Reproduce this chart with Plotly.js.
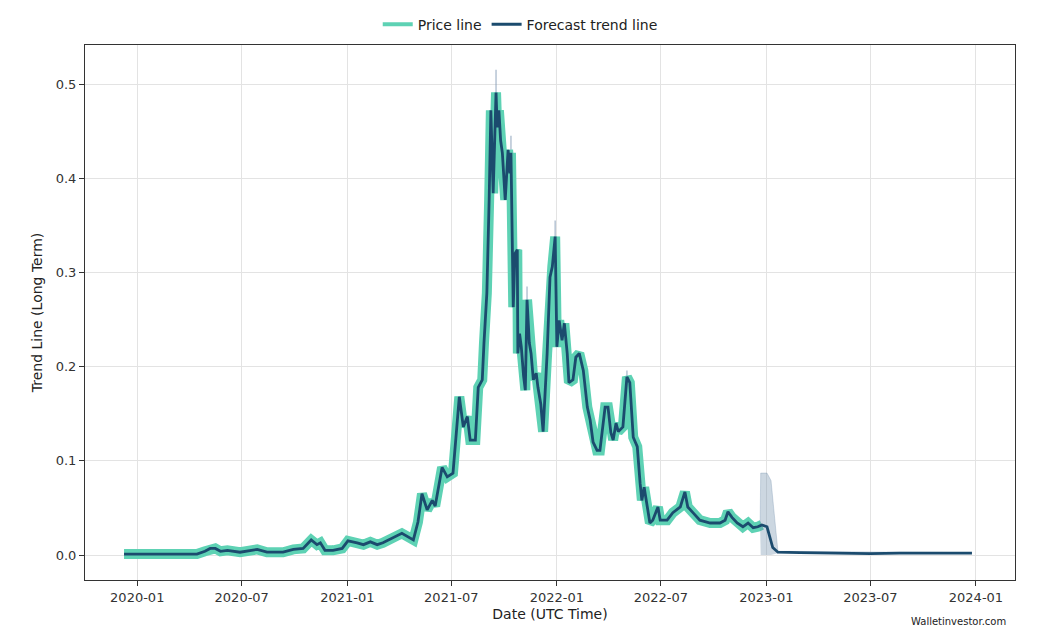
<!DOCTYPE html>
<html>
<head>
<meta charset="utf-8">
<script src="https://cdn.plot.ly/plotly-3.0.1.min.js"></script>
<style>
html,body{margin:0;padding:0;background:#fff;}
#chart{width:1051px;height:640px;}
</style>
</head>
<body>
<div id="chart"></div>
<script>
// Historic price
const priceDates = [
'2019-12-09','2020-04-14','2020-04-28','2020-05-07','2020-05-16','2020-05-25','2020-06-06','2020-06-28',
'2020-07-28','2020-08-14','2020-09-11','2020-09-29','2020-10-16','2020-10-30','2020-11-09','2020-11-15',
'2020-11-23','2020-12-07','2020-12-23','2021-01-02','2021-01-18','2021-01-29','2021-02-10','2021-02-22',
'2021-03-04','2021-03-22','2021-04-06','2021-04-26','2021-05-04','2021-05-11','2021-05-20','2021-05-29',
'2021-06-03','2021-06-15','2021-06-24','2021-07-04','2021-07-15','2021-07-22','2021-07-29','2021-08-03',
'2021-08-12','2021-08-17','2021-08-24','2021-08-27','2021-09-01','2021-09-05','2021-09-08','2021-09-12',
'2021-09-17','2021-09-19','2021-09-22','2021-09-25','2021-09-28','2021-10-03','2021-10-08','2021-10-11','2021-10-13','2021-10-17',
'2021-10-20','2021-10-24','2021-10-25','2021-10-28','2021-10-31','2021-11-04','2021-11-07','2021-11-10','2021-11-14','2021-11-17','2021-11-21',
'2021-11-26','2021-11-29','2021-12-04','2021-12-08','2021-12-15','2021-12-20','2021-12-24','2021-12-29','2022-01-01',
'2022-01-05','2022-01-10','2022-01-14','2022-01-19','2022-01-22','2022-01-29','2022-02-03','2022-02-09',
'2022-02-16','2022-02-23','2022-02-28','2022-03-05','2022-03-12','2022-03-17','2022-03-26','2022-03-31',
'2022-04-05','2022-04-09','2022-04-14','2022-04-18','2022-04-26','2022-05-03','2022-05-08','2022-05-14','2022-05-21','2022-05-26',
'2022-05-29','2022-06-02','2022-06-07','2022-06-12','2022-06-17','2022-06-26','2022-06-30','2022-07-12',
'2022-07-22','2022-08-04','2022-08-12','2022-08-17','2022-08-26','2022-09-07','2022-09-25','2022-10-12',
'2022-10-21','2022-10-26','2022-11-02','2022-11-11','2022-11-21','2022-11-30','2022-12-09','2022-12-17',
'2022-12-24'
];
const priceValues = [
0.001,0.001,0.004,0.007,0.007,0.004,0.005,0.003,
0.006,0.003,0.003,0.006,0.007,0.016,0.011,0.013,
0.005,0.005,0.007,0.015,0.013,0.011,0.014,0.011,
0.013,0.018,0.023,0.016,0.035,0.065,0.048,0.058,
0.052,0.093,0.083,0.087,0.168,0.136,0.147,0.122,
0.122,0.178,0.186,0.225,0.278,0.377,0.472,0.384,
0.491,0.454,0.472,0.440,0.427,0.377,0.430,0.405,0.427,0.263,
0.320,0.324,0.214,0.235,0.221,0.190,0.175,0.271,0.225,0.214,0.186,
0.193,0.178,0.160,0.131,0.214,0.295,0.306,0.338,0.221,
0.249,0.228,0.246,0.214,0.183,0.186,0.210,0.214,
0.196,0.157,0.143,0.120,0.111,0.111,0.157,0.157,
0.130,0.122,0.140,0.131,0.136,0.189,0.183,0.125,0.115,0.076,
0.058,0.072,0.051,0.034,0.037,0.051,0.037,0.037,
0.045,0.051,0.067,0.051,0.045,0.037,0.034,0.034,
0.037,0.046,0.040,0.034,0.030,0.034,0.029,0.030,
0.032
];

// Forecast continuation of the trend line
const forecastDates = ['2023-01-02','2023-01-12','2023-01-21','2023-02-28','2023-05-01','2023-07-01','2023-08-21','2023-10-29','2023-12-25'];
const forecastValues = [0.030,0.008,0.003,0.0025,0.0018,0.0015,0.002,0.0018,0.002];

// Confidence band around the forecast start
const bandDates = ['2022-12-21','2022-12-22','2023-01-02','2023-01-09','2023-01-16','2023-01-21','2023-12-25'];
const bandUpper = [0.031,0.087,0.087,0.079,0.035,0.004,0.0025];
const bandLower = [0.029,0.000,0.000,0.000,0.001,0.002,0.0015];

// Thin band spikes above historic peaks
const spikeDates = ['2021-09-17','2021-10-13','2021-11-10','2021-12-29','2022-05-03'];
const spikeLow = [0.480,0.420,0.262,0.330,0.185];
const spikeHigh = [0.515,0.445,0.285,0.355,0.196];

const xTicks = ['2020-01-01','2020-07-01','2021-01-01','2021-07-01','2022-01-01','2022-07-01','2023-01-01','2023-07-01','2024-01-01'];
const xTickText = ['2020-01','2020-07','2021-01','2021-07','2022-01','2022-07','2023-01','2023-07','2024-01'];
const yTicks = [0.0,0.1,0.2,0.3,0.4,0.5];
const yTickText = ['0.0','0.1','0.2','0.3','0.4','0.5'];

const trendDates = priceDates.concat(forecastDates);
const trendValues = priceValues.concat(forecastValues);

const spikeX = [], spikeY = [];
spikeDates.forEach((d, i) => { spikeX.push(d, d, null); spikeY.push(spikeLow[i], spikeHigh[i], null); });

const teal = '#5ed2b4';
const navy = '#1b4b6e';

const traces = [
  {x: spikeX, y: spikeY, type:'scatter', mode:'lines', line:{color:'rgba(120,145,175,0.55)', width:1.5},
   showlegend:false, hoverinfo:'skip', connectgaps:false},
  {x: priceDates, y: priceValues, type:'scatter', mode:'lines', name:'Price line',
   line:{color:teal, width:10}, showlegend:false, hoverinfo:'skip'},
  {x: bandDates, y: bandLower, type:'scatter', mode:'lines', line:{width:0, color:'rgba(0,0,0,0)'},
   showlegend:false, hoverinfo:'skip'},
  {x: bandDates, y: bandUpper, type:'scatter', mode:'lines', fill:'tonexty',
   fillcolor:'rgba(110,140,170,0.35)', line:{width:0.6, color:'rgba(110,140,170,0.5)'},
   showlegend:false, hoverinfo:'skip'},
  {x: trendDates, y: trendValues, type:'scatter', mode:'lines', name:'Forecast trend line',
   line:{color:navy, width:2.8}, showlegend:false},
  // legend entries
  {x:[null], y:[null], type:'scatter', mode:'lines', name:'Price line', line:{color:teal, width:4}},
  {x:[null], y:[null], type:'scatter', mode:'lines', name:'Forecast trend line', line:{color:navy, width:3}}
];

const axisFont = {family:'"DejaVu Sans", sans-serif', size:13, color:'#333'};

const layout = {
  width:1051, height:640,
  margin:{l:85, r:36, t:45, b:60, pad:0, autoexpand:false},
  paper_bgcolor:'#fff', plot_bgcolor:'#fff',
  font:{family:'"DejaVu Sans", sans-serif', size:13, color:'#333'},
  showlegend:true,
  legend:{orientation:'h', traceorder:'normal', x:0.468, xanchor:'center', y:1.038, yanchor:'middle',
          font:{family:'"DejaVu Sans", sans-serif', size:14, color:'#222'},
          bgcolor:'rgba(0,0,0,0)', itemwidth:30},
  xaxis:{
    type:'date', range:['2019-10-02','2024-03-09'],
    tickvals:xTicks, ticktext:xTickText, tickfont:axisFont,
    showgrid:true, gridcolor:'#e3e3e3', gridwidth:1,
    showline:true, linecolor:'#333', linewidth:1, mirror:true,
    ticks:'outside', ticklen:5, tickcolor:'#333', zeroline:false,
    title:{text:'Date (UTC Time)', font:{family:'"DejaVu Sans", sans-serif', size:14, color:'#222'}, standoff:5}
  },
  yaxis:{
    range:[-0.0265, 0.5414],
    tickvals:yTicks, ticktext:yTickText, tickfont:axisFont,
    showgrid:true, gridcolor:'#e3e3e3', gridwidth:1,
    showline:true, linecolor:'#333', linewidth:1, mirror:true,
    ticks:'outside', ticklen:5, tickcolor:'#333', zeroline:false,
    title:{text:'Trend Line (Long Term)', font:{family:'"DejaVu Sans", sans-serif', size:14, color:'#222'}, standoff:9}
  },
  annotations:[
    {text:'Walletinvestor.com', xref:'paper', yref:'paper', x:0.9925, y:-0.063, xanchor:'right', yanchor:'top',
     showarrow:false, font:{family:'"DejaVu Sans", sans-serif', size:10, color:'#222'}}
  ]
};

Plotly.newPlot('chart', traces, layout, {displayModeBar:false, staticPlot:true});
</script>
</body>
</html>
